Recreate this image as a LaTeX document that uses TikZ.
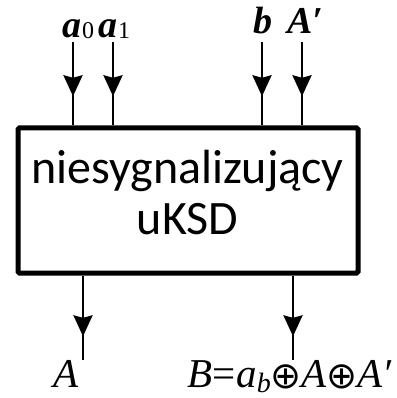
\documentclass[tikz,border=0pt]{standalone}
\usepackage{fontspec}
\setmainfont{Liberation Serif}
\newfontfamily\boxfont{Carlito}
\newfontfamily\symfont{DejaVu Sans}
\usetikzlibrary{arrows.meta,decorations.markings}
\newcommand{\xorsym}{{\symfont\fontsize{37}{37}\selectfont\raisebox{-1pt}{⊕}}}
\tikzset{
  wire/.style={line width=2.6pt},
  tipA/.style={postaction={decorate},decoration={markings,mark=at position #1 with {\arrow{Stealth[length=21pt,width=19pt,inset=2.5pt]}}}},
  toplab/.style={anchor=base west,inner sep=0pt,font=\fontsize{38}{38}\selectfont\bfseries\itshape},
  botlab/.style={anchor=base west,inner sep=0pt,font=\fontsize{41}{41}\selectfont\itshape},
}
\begin{document}
\begin{tikzpicture}[x=1pt,y=-1pt]
\useasboundingbox (0,0) rectangle (396,398);
\node[draw,line width=5pt,rounded corners=1.5pt,minimum width=340pt,minimum height=145pt,inner sep=0pt] (box) at (188,200.5) {};
\node[align=center,font=\boxfont\fontsize{48}{51}\selectfont] (txt) at (187.5,193) {niesygnalizujący\\uKSD};
% top inputs
\coordinate (ia0) at (73,42);
\coordinate (ia1) at (113,42);
\coordinate (ib) at (262,42);
\coordinate (iA) at (302,42);
\foreach \c in {ia0,ia1,ib,iA}
  \draw[wire,tipA=0.65] (\c) -- (\c |- box.north);
% bottom outputs
\coordinate (oA) at (83,360);
\coordinate (oB) at (293,360);
\foreach \c in {oA,oB}
  \draw[wire,tipA=0.72] (\c |- box.south) -- (\c);
% labels
\node[toplab] (la0) at (62,38) {a\kern1pt{\normalfont\fontsize{24}{24}\selectfont\raisebox{-1pt}{0}}};
\node[toplab] (la1) at (98,38) {a\kern1pt{\normalfont\fontsize{24}{24}\selectfont\raisebox{-1pt}{1}}};
\node[toplab] (lb) at (253,34) {b};
\node[toplab] (lA) at (287,34) {A′};
\node[botlab] (lAo) at (53,387) {A};
\node[botlab] (lBo) at (187,387) {B{\upshape=}\kern1pt a{\fontsize{28}{28}\selectfont\raisebox{-5pt}{b}}\xorsym A\xorsym A′};
\end{tikzpicture}
\end{document}
